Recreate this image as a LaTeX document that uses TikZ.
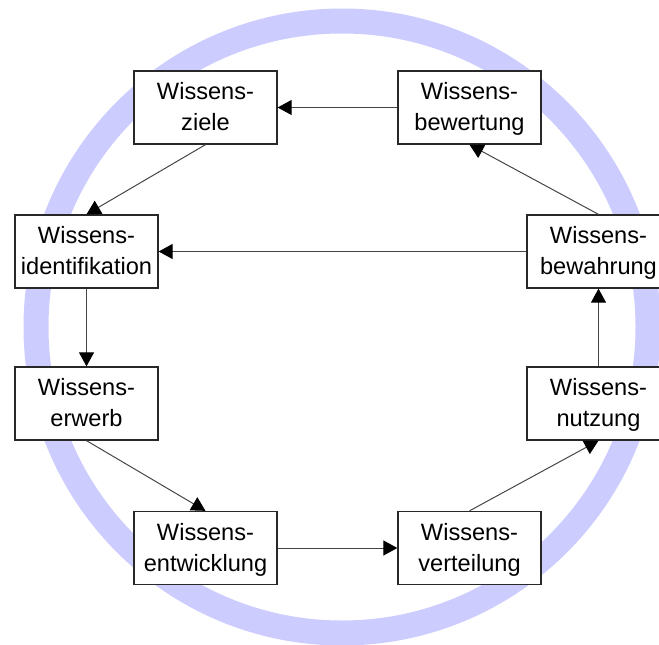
\documentclass[tikz,border=0pt]{standalone}
\usepackage{fontspec}
\setmainfont{Liberation Sans}
\usetikzlibrary{arrows.meta}
\definecolor{ringblue}{RGB}{204,204,255}
\definecolor{boxline}{RGB}{40,40,40}
\definecolor{flowline}{RGB}{70,70,70}
\tikzset{
  phase/.style={draw=boxline, fill=white, line width=1.3pt,
    minimum width=143pt, minimum height=73pt, inner sep=0pt,
    text height=47.8pt, text depth=1.8pt,
    align=center, font=\fontsize{23.6}{31}\selectfont},
  flow/.style={draw=flowline, line width=1pt,
    -{Triangle[length=14pt,width=15pt,color=black]}},
}
\begin{document}
\begin{tikzpicture}[x=1pt,y=-1pt]
  \useasboundingbox (0,0) rectangle (659,645);
  \clip (0,0) rectangle (659,645);
  % cycle ring in the background
  \draw[ringblue, line width=25pt] (342,327) circle[radius=306];

  % the eight phases
  \node[phase] (ziele)   at (205.5,107.5) {Wissens-\\ziele};
  \node[phase] (bewert)  at (469.5,107.5) {Wissens-\\bewertung};
  \node[phase] (ident)   at (86.5,251.5)  {Wissens-\\identifikation};
  \node[phase] (bewahr)  at (598.5,251.5) {Wissens-\\bewahrung};
  \node[phase] (erwerb)  at (86.5,403.5)  {Wissens-\\erwerb};
  \node[phase] (nutzung) at (598.5,403.5) {Wissens-\\nutzung};
  \node[phase] (entw)    at (205.5,548)   {Wissens-\\entwicklung};
  \node[phase] (vert)    at (469.5,548)   {Wissens-\\verteilung};

  % flows between the phases
  \draw[flow] (bewert.west) -- (ziele.east);
  \draw[flow] (ziele.south) -- (ident.north);
  \draw[flow] (bewahr.west) -- (ident.east);
  \draw[flow] (bewahr.north) -- (bewert.south);
  \draw[flow] (ident.south) -- (erwerb.north);
  \draw[flow] (erwerb.south) -- (entw.north);
  \draw[flow] (entw.east) -- (vert.west);
  \draw[flow] (vert.north) -- (nutzung.south);
  \draw[flow] (nutzung.north) -- (bewahr.south);
\end{tikzpicture}
\end{document}
